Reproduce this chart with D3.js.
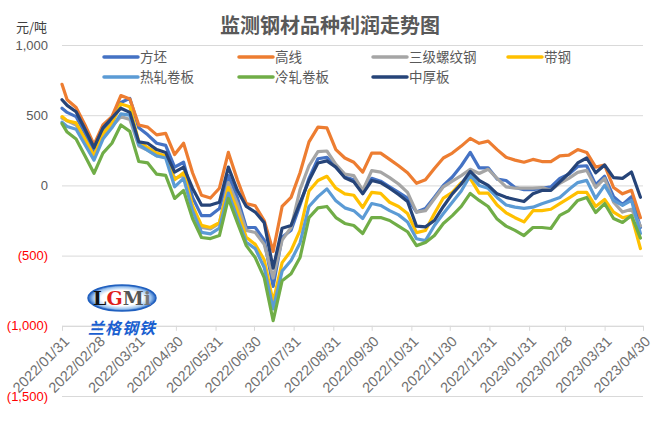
<!DOCTYPE html>
<html>
<head>
<meta charset="utf-8">
<script src="https://cdn.jsdelivr.net/npm/d3@7/dist/d3.min.js"></script>
<style>
  body { margin: 0; background: #fff; }
  svg { display: block; }
</style>
</head>
<body>
<div class="board"></div>
<script>
/*
=================================
DATA
=================================
*/
var dates = [
  '2022-01-31', '2022-02-04', '2022-02-11', '2022-02-18', '2022-02-25',
  '2022-03-04', '2022-03-11', '2022-03-18', '2022-03-25', '2022-04-01',
  '2022-04-08', '2022-04-15', '2022-04-22', '2022-04-29', '2022-05-06',
  '2022-05-13', '2022-05-20', '2022-05-27', '2022-06-03', '2022-06-10',
  '2022-06-17', '2022-06-24', '2022-07-01', '2022-07-08', '2022-07-15',
  '2022-07-22', '2022-07-29', '2022-08-05', '2022-08-12', '2022-08-19',
  '2022-08-26', '2022-09-02', '2022-09-09', '2022-09-16', '2022-09-23',
  '2022-09-30', '2022-10-07', '2022-10-14', '2022-10-21', '2022-10-28',
  '2022-11-04', '2022-11-11', '2022-11-18', '2022-11-25', '2022-12-02',
  '2022-12-09', '2022-12-16', '2022-12-23', '2022-12-30', '2023-01-06',
  '2023-01-13', '2023-01-20', '2023-01-27', '2023-02-03', '2023-02-10',
  '2023-02-17', '2023-02-24', '2023-03-03', '2023-03-10', '2023-03-17',
  '2023-03-24', '2023-03-31', '2023-04-07', '2023-04-14', '2023-04-21',
  '2023-04-28'
];

var monthTicks = [
  '2022-01-31', '2022-02-28', '2022-03-31', '2022-04-30', '2022-05-31',
  '2022-06-30', '2022-07-31', '2022-08-31', '2022-09-30', '2022-10-31',
  '2022-11-30', '2022-12-31', '2023-01-31', '2023-02-28', '2023-03-31',
  '2023-04-30'
];

var yTicks = [1000, 500, 0, -500, -1000, -1500];

var seriesNames = ['方坯', '高线', '三级螺纹钢', '带钢', '热轧卷板', '冷轧卷板', '中厚板'];

// 方坯
var fangpi = [550, 520, 490, 370, 240, 380, 460, 590, 620, 410,
  360, 300, 285, 130, 165, -85, -215, -215, -165, 70,
  -85, -300, -300, -390, -720, -370, -320, -140, 50, 190,
  200, 130, 60, 40, -40, 50, 30, -10, -50, -90,
  -190, -165, -85, 0, 60, 140, 235, 125, 125, 45,
  35, -15, -30, -30, -20, -10, 50, 80, 135, 140,
  5, 65, -80, -135, -80, -300];

// 高线
var gaoxian = [720, 610, 555, 430, 290, 430, 490, 640, 615, 430,
  415, 360, 370, 220, 300, 90, -70, -90, -20, 235,
  40, -130, -145, -250, -470, -150, -85, 90, 310, 415,
  410, 255, 195, 165, 95, 230, 230, 185, 140, 90,
  15, 40, 120, 195, 230, 280, 335, 300, 315, 255,
  200, 180, 165, 185, 170, 170, 210, 215, 255, 235,
  130, 145, -15, -60, -35, -230];

// 三级螺纹钢
var luowen = [480, 460, 430, 320, 210, 350, 420, 490, 470, 280,
  250, 210, 210, 50, 70, -160, -300, -310, -270, 20,
  -130, -320, -335, -420, -660, -390, -300, -30, 140, 240,
  245, 150, 80, 70, -35, 105, 95, 55, 10, -50,
  -190, -180, -95, -10, 30, 70, 115, 85, 115, 50,
  -10, -20, -20, -20, -15, -35, 15, 50, 93, 107,
  -14, 50, -120, -190, -170, -290];

// 带钢
var daigang = [490, 460, 445, 330, 210, 370, 440, 580, 560, 310,
  270, 230, 210, 40, 90, -145, -285, -300, -265, -15,
  -180, -370, -420, -530, -830, -550, -465, -320, -40, 35,
  65, -20, -60, -70, -157, -50, -57, -120, -150, -200,
  -336, -321, -200, -90, -50, 20, 50, -55, -55, -140,
  -195, -230, -260, -180, -180, -170, -130, -90, -50, -50,
  -150, -100, -190, -230, -215, -450];

// 热轧卷板
var rezha = [450, 420, 400, 290, 180, 330, 410, 510, 500, 290,
  250, 210, 195, -10, 50, -180, -335, -345, -305, -55,
  -230, -405, -450, -585, -880, -610, -535, -410, -150, -80,
  -25, -110, -160, -180, -236, -129, -143, -180, -210, -260,
  -380, -393, -286, -200, -120, -40, 71, 0, -21, -86,
  -140, -155, -164, -155, -130, -110, -86, -30, 20, 36,
  -93, 0, -107, -143, -107, -343];

// 冷轧卷板
var lengzha = [440, 380, 330, 210, 86, 230, 300, 430, 385, 170,
  160, 80, 71, -93, -36, -236, -371, -379, -357, -93,
  -264, -429, -514, -657, -964, -679, -630, -514, -229, -160,
  -150, -229, -271, -286, -343, -229, -229, -250, -290, -330,
  -429, -407, -357, -271, -215, -150, -57, -107, -150, -240,
  -290, -320, -357, -300, -300, -307, -214, -179, -107, -86,
  -193, -129, -236, -264, -214, -375];

// 中厚板
var zhonghou = [610, 570, 525, 400, 270, 410, 480, 550, 520, 310,
  300, 255, 235, 95, 130, -20, -140, -140, -120, 130,
  -35, -150, -190, -265, -590, -305, -285, -125, 35, 160,
  175, 130, 55, 25, -60, 35, 20, -20, -65, -115,
  -290, -295, -250, -150, -60, 10, 100, 35, 0, -60,
  -85, -100, -115, -60, -36, -35, 25, 85, 160, 195,
  90, 145, 55, 50, 95, -85];

var seriesColors = ['#4472c4', '#ed7d31', '#a5a5a5', '#ffc000', '#5b9bd5', '#70ad47', '#264478'];

/*
=================================
CREATE BACKGROUND CONTAINER
=================================
*/
var width = 661, height = 434;
var svg = d3.select('.board').append('svg')
  .attr('width', width)
  .attr('height', height);

var parse = d3.timeParse('%Y-%m-%d');
var fmtDate = d3.timeFormat('%Y/%m/%d');
var fmtNum = d3.format(',');

var x = d3.scaleTime()
  .domain([parse('2022-01-31'), parse('2023-04-30')])
  .range([62, 643]);

var y = d3.scaleLinear()
  .domain([-1500, 1000])
  .range([396, 45]);

var font = '"Liberation Sans", Arial, sans-serif';
var cjk = '"Noto Sans CJK SC", "Noto Sans", sans-serif';

// title + unit
svg.append('text')
  .attr('x', 330).attr('y', 33)
  .attr('text-anchor', 'middle')
  .style('font-family', cjk)
  .style('font-size', '20px')
  .style('font-weight', 'bold')
  .style('fill', '#595959')
  .text('监测钢材品种利润走势图');

svg.append('text')
  .attr('x', 16).attr('y', 32)
  .style('font-family', cjk)
  .style('font-size', '13px')
  .style('fill', '#404040')
  .text('元/吨');

/*
=================================
GRID + AXES
=================================
*/
var yAxis = svg.append('g')
  .attr('transform', 'translate(62,0)')
  .call(d3.axisLeft(y).tickValues(yTicks).tickSize(-(643 - 62))
    .tickFormat(function(d) { return d < 0 ? '(' + fmtNum(-d) + ')' : fmtNum(d); }));

yAxis.select('.domain').remove();
yAxis.selectAll('line').attr('stroke', '#d9d9d9');
yAxis.selectAll('text')
  .attr('x', -14)
  .style('font-family', font)
  .style('font-size', '13px')
  .style('fill', function(d) { return d < 0 ? '#ff0000' : '#595959'; });

var xAxis = svg.append('g')
  .attr('transform', 'translate(0,' + y(-1000) + ')')
  .call(d3.axisBottom(x).tickValues(monthTicks.map(parse)).tickSize(5).tickSizeOuter(0)
    .tickFormat(fmtDate));

xAxis.select('.domain').attr('stroke', '#d9d9d9');
xAxis.selectAll('line').attr('stroke', '#d9d9d9');
xAxis.selectAll('text')
  .attr('x', 0).attr('y', 0).attr('dy', '0.35em')
  .attr('transform', 'translate(4,13) rotate(-45)')
  .style('text-anchor', 'end')
  .style('font-family', font)
  .style('font-size', '14.5px')
  .style('fill', '#707070');

/*
=================================
LOGO
=================================
*/
var logo = svg.append('g');
var grad = svg.append('defs').append('radialGradient').attr('id', 'lg');
grad.append('stop').attr('offset', '60%').attr('stop-color', '#ffffff');
grad.append('stop').attr('offset', '85%').attr('stop-color', '#9cc3ee');
grad.append('stop').attr('offset', '100%').attr('stop-color', '#1f5fbf');
logo.append('ellipse').attr('cx', 122).attr('cy', 298).attr('rx', 34).attr('ry', 13)
  .attr('fill', 'url(#lg)');
logo.append('ellipse').attr('cx', 122).attr('cy', 298).attr('rx', 34).attr('ry', 13)
  .attr('fill', 'none').attr('stroke', '#1f5fbf').attr('stroke-width', 1.5);
var lgmi = logo.append('text').attr('x', 122).attr('y', 305).attr('text-anchor', 'middle')
  .style('font-family', '"DejaVu Serif", serif').style('font-size', '19px')
  .style('font-weight', 'bold');
lgmi.append('tspan').attr('fill', '#111').text('L');
lgmi.append('tspan').attr('fill', '#e0201a').text('G');
lgmi.append('tspan').attr('fill', '#555').text('M');
lgmi.append('tspan').attr('fill', '#777').text('i');
logo.append('text').attr('x', 122).attr('y', 334).attr('text-anchor', 'middle')
  .style('font-family', cjk).style('font-size', '16px').style('font-weight', 'bold')
  .style('font-style', 'italic').style('letter-spacing', '1px')
  .style('fill', '#1a5fd0').text('兰格钢铁');

/*
=================================
LINES
=================================
*/
var allSeries = [fangpi, gaoxian, luowen, daigang, rezha, lengzha, zhonghou];

var line = d3.line()
  .x(function(d, i) { return x(parse(dates[i])); })
  .y(function(d) { return y(d); });

svg.append('g').selectAll('path')
  .data(allSeries)
  .enter().append('path')
  .attr('d', line)
  .attr('fill', 'none')
  .attr('stroke', function(d, i) { return seriesColors[i]; })
  .attr('stroke-width', 3.2)
  .attr('stroke-linejoin', 'round')
  .attr('stroke-linecap', 'round');

/*
=================================
LEGEND
=================================
*/
var legendX = [104, 239, 373, 508];
var legend = svg.append('g').selectAll('g')
  .data(seriesNames)
  .enter().append('g')
  .attr('transform', function(d, i) {
    return 'translate(' + legendX[i % 4] + ',' + (i < 4 ? 57 : 77) + ')';
  });

legend.append('line')
  .attr('x1', 0).attr('x2', 34)
  .attr('stroke', function(d, i) { return seriesColors[i]; })
  .attr('stroke-width', 3.5)
  .attr('stroke-linecap', 'round');

legend.append('text')
  .attr('x', 36).attr('dy', '0.36em')
  .style('font-family', cjk)
  .style('font-size', '13.5px')
  .style('fill', '#595959')
  .text(function(d) { return d; });
</script>
</body>
</html>
